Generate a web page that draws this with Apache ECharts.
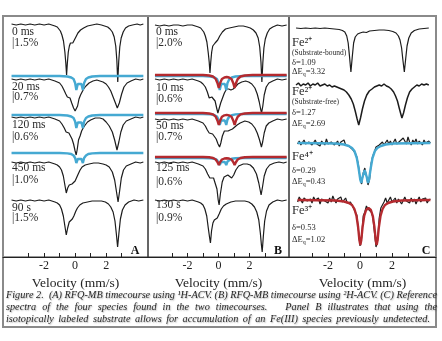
<!DOCTYPE html>
<html>
<head>
<meta charset="utf-8">
<script src="https://cdn.jsdelivr.net/npm/echarts@6/dist/echarts.min.js"></script>
<style>
html, body { margin: 0; padding: 0; background: #fff; }
#chart { width: 442px; height: 341px; }
</style>
</head>
<body>
<div id="chart"></div>
<script>
var FONT = '"Liberation Serif", "Times New Roman", serif';
var BLACK = '#1c1c1c';
var BLUE = '#45a9d2';
var RED = '#b42a2f';

// ---- panel A: 1H-ACV timecourse, [velocity mm/s, absorption depth] ----
var specA1 = [[-4.1,0],[-3.8,1],[-3.5,0],[-3.2,1],[-2.9,0],[-2.6,1],[-2.3,0],[-2.0,1],[-1.7,0],[-1.5,1],[-1.3,2],[-1.15,3],[-1.05,5],[-0.95,7],[-0.85,11],[-0.75,17],[-0.66,28],[-0.6,39],[-0.55,51],[-0.5,39],[-0.44,28],[-0.37,22],[-0.3,19],[-0.22,18],[-0.15,19],[-0.06,17],[0.05,13],[0.18,9],[0.35,6],[0.55,4],[0.8,2],[1.1,1],[1.4,0],[1.7,1],[1.9,2],[2.1,3],[2.25,5],[2.4,8],[2.52,13],[2.62,22],[2.69,36],[2.75,58],[2.81,38],[2.88,23],[2.97,14],[3.1,8],[3.25,4],[3.45,2],[3.7,1],[4.0,0],[4.2,1],[4.4,0]];
var specA2 = [[-4.1,0],[-3.8,1],[-3.5,0],[-3.2,1],[-2.9,0],[-2.6,1],[-2.3,0],[-2.0,1],[-1.7,0],[-1.5,1],[-1.3,2],[-1.15,3],[-1.0,4],[-0.85,7],[-0.72,11],[-0.6,15],[-0.5,18],[-0.42,17],[-0.33,19],[-0.22,24],[-0.1,29],[0.0,32],[0.08,34],[0.16,27],[0.25,20],[0.35,16],[0.45,14],[0.55,10],[0.7,7],[0.9,4],[1.15,2],[1.4,1],[1.6,2],[1.8,3],[2.0,5],[2.15,8],[2.3,12],[2.45,18],[2.6,24],[2.72,29],[2.85,24],[3.0,15],[3.15,8],[3.35,4],[3.6,2],[3.9,0],[4.2,1],[4.4,0]];
var specA3 = [[-4.1,0],[-3.8,1],[-3.5,0],[-3.2,1],[-2.9,0],[-2.6,1],[-2.3,0],[-2.0,1],[-1.7,0],[-1.5,1],[-1.3,2],[-1.15,3],[-1.0,4],[-0.85,7],[-0.7,11],[-0.58,15],[-0.48,16],[-0.4,16],[-0.3,19],[-0.2,22],[-0.1,27],[0.0,34],[0.07,38],[0.14,32],[0.22,23],[0.32,19],[0.42,14],[0.52,11],[0.65,8],[0.8,5],[1.0,3],[1.3,1],[1.6,1],[1.8,2],[2.0,5],[2.2,9],[2.4,15],[2.55,23],[2.7,33],[2.82,25],[2.95,15],[3.1,8],[3.3,4],[3.6,2],[3.9,0],[4.2,1],[4.4,0]];
var specA4 = [[-4.1,0],[-3.8,1],[-3.5,0],[-3.2,1],[-2.9,0],[-2.6,1],[-2.3,0],[-2.0,1],[-1.7,0],[-1.5,1],[-1.3,2],[-1.15,3],[-1.0,5],[-0.88,8],[-0.76,14],[-0.66,23],[-0.57,31],[-0.48,26],[-0.38,23],[-0.3,23],[-0.2,22],[-0.1,21],[0.0,19],[0.1,17],[0.2,12],[0.32,8],[0.45,5],[0.65,3],[0.9,2],[1.2,1],[1.5,1],[1.8,2],[2.0,3],[2.2,5],[2.4,10],[2.55,18],[2.67,30],[2.77,40],[2.87,29],[2.98,16],[3.12,8],[3.3,4],[3.6,2],[3.9,0],[4.2,1],[4.4,0]];
var specA5 = [[-4.1,0],[-3.8,1],[-3.5,0],[-3.2,1],[-2.9,0],[-2.6,1],[-2.3,0],[-2.0,1],[-1.7,0],[-1.5,1],[-1.3,2],[-1.15,3],[-1.0,5],[-0.88,9],[-0.76,16],[-0.66,26],[-0.57,35],[-0.48,28],[-0.38,22],[-0.28,20],[-0.18,19],[-0.08,16],[0.05,11],[0.15,8],[0.3,5],[0.5,3],[0.8,2],[1.1,1],[1.4,1],[1.7,1],[1.95,2],[2.15,4],[2.3,7],[2.45,12],[2.57,21],[2.66,34],[2.74,47],[2.82,34],[2.92,19],[3.05,10],[3.22,5],[3.45,2],[3.8,0],[4.1,1],[4.4,0]];
// Fe(IV) fits in A
var fitA2 = [[-4.1,0],[-1.0,0],[-0.5,0.5],[-0.25,1.5],[-0.1,3],[0.0,7],[0.08,14],[0.17,8],[0.29,6],[0.41,8],[0.5,14],[0.58,7],[0.7,3],[0.85,1.5],[1.1,0.5],[1.6,0],[4.4,0]];
var fitA3 = [[-4.1,0],[-1.0,0],[-0.5,0.5],[-0.25,1.5],[-0.1,3],[0.0,6.5],[0.08,13],[0.17,7.5],[0.29,5.5],[0.41,7.5],[0.5,13],[0.58,6.5],[0.7,3],[0.85,1.5],[1.1,0.5],[1.6,0],[4.4,0]];
var fitA4 = [[-4.1,0],[-1.0,0],[-0.5,0.4],[-0.25,1],[-0.1,2.5],[0.0,5],[0.08,10],[0.17,6],[0.29,4.5],[0.41,6],[0.5,10],[0.58,5],[0.7,2.5],[0.85,1],[1.1,0.4],[1.6,0],[4.4,0]];

// ---- panel B: 2H-ACV timecourse ----
var specB1 = [[-4.1,0],[-3.8,1],[-3.5,0],[-3.2,1],[-2.9,0],[-2.6,0],[-2.3,1],[-2.0,0],[-1.7,0],[-1.5,1],[-1.3,2],[-1.15,3],[-1.05,5],[-0.95,7],[-0.85,11],[-0.75,17],[-0.66,28],[-0.6,37],[-0.55,48],[-0.5,37],[-0.44,27],[-0.37,21],[-0.3,19],[-0.22,18],[-0.14,18],[-0.05,15],[0.08,11],[0.25,7],[0.45,4],[0.7,3],[1.0,2],[1.3,1],[1.6,1],[1.85,2],[2.05,3],[2.25,5],[2.42,8],[2.56,13],[2.66,22],[2.74,37],[2.8,57],[2.86,38],[2.93,23],[3.02,14],[3.15,8],[3.3,4],[3.5,2],[3.8,0],[4.1,1],[4.4,0]];
var specB2 = [[-4.1,0],[-3.8,1],[-3.5,0],[-3.2,1],[-2.9,0],[-2.6,1],[-2.3,0],[-2.0,1],[-1.7,0],[-1.5,1],[-1.3,2],[-1.15,3],[-1.0,5],[-0.85,8],[-0.72,13],[-0.6,19],[-0.52,21],[-0.43,18],[-0.33,17],[-0.22,22],[-0.12,29],[-0.04,34],[0.04,32],[0.14,24],[0.26,19],[0.38,14],[0.52,10],[0.66,10],[0.8,11],[0.95,10],[1.08,8],[1.25,5],[1.5,3],[1.75,2],[1.95,3],[2.15,5],[2.35,9],[2.5,15],[2.63,23],[2.72,30],[2.78,34],[2.86,27],[2.95,16],[3.08,8],[3.25,4],[3.5,2],[3.8,0],[4.1,1],[4.4,0]];
var specB3 = [[-4.1,0],[-3.8,1],[-3.5,0],[-3.2,1],[-2.9,0],[-2.6,1],[-2.3,0],[-2.0,1],[-1.7,0],[-1.5,1],[-1.3,2],[-1.15,3],[-1.0,4],[-0.85,7],[-0.72,11],[-0.6,14],[-0.48,16],[-0.38,15],[-0.27,16],[-0.15,20],[-0.03,25],[0.07,28],[0.15,24],[0.25,17],[0.38,12],[0.5,11],[0.62,12],[0.75,11],[0.9,10],[1.05,8],[1.2,6],[1.4,4],[1.7,2],[1.95,3],[2.15,5],[2.35,9],[2.5,14],[2.63,20],[2.72,25],[2.77,28],[2.85,23],[2.95,14],[3.08,7],[3.25,4],[3.5,2],[3.8,0],[4.1,1],[4.4,0]];
var specB4 = [[-4.1,0],[-3.8,1],[-3.5,0],[-3.2,1],[-2.9,0],[-2.6,1],[-2.3,0],[-2.0,1],[-1.7,0],[-1.5,1],[-1.3,2],[-1.15,3],[-1.0,4],[-0.85,7],[-0.7,12],[-0.56,16],[-0.45,15],[-0.32,16],[-0.2,18],[-0.1,27],[-0.02,38],[0.04,43],[0.12,32],[0.24,20],[0.36,15],[0.48,13],[0.6,13],[0.72,15],[0.85,16],[0.98,13],[1.12,8],[1.3,4],[1.6,2],[1.85,2],[2.05,3],[2.25,6],[2.45,12],[2.6,21],[2.7,29],[2.75,33],[2.84,25],[2.95,14],[3.1,7],[3.3,3],[3.6,1],[3.9,0],[4.2,1],[4.4,0]];
var specB5 = [[-4.1,0],[-3.8,1],[-3.5,0],[-3.2,1],[-2.9,0],[-2.6,1],[-2.3,0],[-2.0,1],[-1.7,0],[-1.5,1],[-1.3,2],[-1.15,3],[-1.0,5],[-0.88,9],[-0.76,16],[-0.66,28],[-0.58,37],[-0.52,43],[-0.45,31],[-0.36,23],[-0.27,20],[-0.18,20],[-0.08,18],[0.04,14],[0.18,9],[0.32,6],[0.5,4],[0.8,2],[1.1,1],[1.4,1],[1.7,1],[1.95,2],[2.15,4],[2.32,7],[2.47,12],[2.6,20],[2.7,33],[2.77,45],[2.82,52],[2.89,37],[2.98,21],[3.1,11],[3.26,5],[3.5,2],[3.8,0],[4.1,1],[4.4,0]];
// Fe(IV) (blue) and Fe(III) (red) fits in B
var blueB2 = [[-4.1,0],[-1.0,0],[-0.5,0.5],[-0.25,1.5],[-0.1,3],[0.0,7],[0.08,14],[0.17,8],[0.29,6],[0.41,8],[0.5,14],[0.58,7],[0.7,3],[0.85,1.5],[1.1,0.5],[1.6,0],[4.4,0]];
var blueB3 = [[-4.1,0],[-1.0,0],[-0.5,0.4],[-0.25,1.2],[-0.1,2.5],[0.0,5.5],[0.08,11],[0.17,6.5],[0.29,4.5],[0.41,6.5],[0.5,11],[0.58,5.5],[0.7,2.5],[0.85,1.2],[1.1,0.4],[1.6,0],[4.4,0]];
var blueB4 = [[-4.1,0],[-1.0,0],[-0.5,0.3],[-0.25,0.8],[-0.1,1.8],[0.0,3.5],[0.08,7],[0.17,4],[0.29,3],[0.41,4],[0.5,7],[0.58,3.5],[0.7,1.8],[0.85,0.8],[1.1,0.3],[1.6,0],[4.4,0]];
var redB2 = [[-4.1,0],[-1.0,0],[-0.6,0.5],[-0.35,1.5],[-0.18,4],[-0.07,8],[0.02,13],[0.11,8],[0.22,4],[0.38,2.5],[0.53,2],[0.68,2.5],[0.84,4],[0.95,8],[1.04,13],[1.13,8],[1.24,4],[1.42,1.5],[1.7,0.5],[2.2,0],[4.4,0]];
var redB3 = [[-4.1,0],[-1.0,0],[-0.6,0.5],[-0.35,1.4],[-0.18,3.7],[-0.07,7.5],[0.02,12],[0.11,7.5],[0.22,3.7],[0.38,2.3],[0.53,1.8],[0.68,2.3],[0.84,3.7],[0.95,7.5],[1.04,12],[1.13,7.5],[1.24,3.7],[1.42,1.4],[1.7,0.5],[2.2,0],[4.4,0]];
var redB4 = [[-4.1,0],[-1.0,0],[-0.6,0.3],[-0.35,1],[-0.18,2.5],[-0.07,5],[0.02,8],[0.11,5],[0.22,2.5],[0.38,1.5],[0.53,1.2],[0.68,1.5],[0.84,2.5],[0.95,5],[1.04,8],[1.13,5],[1.24,2.5],[1.42,1],[1.7,0.3],[2.2,0],[4.4,0]];

// ---- panel C: reference spectra ----
var specC1 = [[-4.0,0],[-3.7,0.5],[-3.4,0],[-3.1,0.5],[-2.8,0],[-2.5,0.5],[-2.2,0],[-1.9,0.5],[-1.6,1],[-1.3,1.5],[-1.1,2.5],[-0.95,4],[-0.83,8],[-0.74,15],[-0.66,28],[-0.57,44],[-0.48,28],[-0.4,15],[-0.3,9],[-0.15,6],[0.0,5],[0.2,4],[0.4,4.5],[0.6,3],[0.9,2.5],[1.2,2],[1.5,2],[1.8,2.5],[2.05,3.5],[2.25,5],[2.4,8],[2.5,12],[2.6,20],[2.68,32],[2.77,44],[2.86,30],[2.94,18],[3.05,10],[3.2,5],[3.4,2.5],[3.7,1],[4.0,0.5],[4.3,0]];
var specC2 = [[-4.0,0],[-3.85,-2],[-3.7,1],[-3.55,-1],[-3.4,0],[-3.25,-2],[-3.1,1],[-2.95,-1],[-2.8,0],[-2.65,-2],[-2.5,1],[-2.35,0],[-2.2,-1],[-2.05,1],[-1.9,0],[-1.75,2],[-1.6,1],[-1.45,2],[-1.3,3],[-1.15,4],[-1.0,5],[-0.85,7],[-0.7,10],[-0.55,14],[-0.42,19],[-0.3,26],[-0.18,34],[-0.08,40],[0.03,33],[0.15,24],[0.28,16],[0.42,10],[0.58,6],[0.75,4],[0.9,2],[1.05,1],[1.2,0],[1.35,1],[1.5,-1],[1.65,1],[1.8,2],[1.95,4],[2.1,7],[2.22,11],[2.34,16],[2.45,23],[2.55,29],[2.62,33],[2.72,28],[2.84,20],[2.96,13],[3.1,7],[3.25,4],[3.4,2],[3.55,0],[3.7,1],[3.85,-1],[4.0,0],[4.15,-1],[4.3,0]];
var velC = [-3.9,-3.8,-3.7,-3.6,-3.5,-3.4,-3.3,-3.2,-3.1,-3.0,-2.9,-2.8,-2.7,-2.6,-2.5,-2.4,-2.3,-2.2,-2.1,-2.0,-1.9,-1.8,-1.7,-1.6,-1.5,-1.4,-1.3,-1.2,-1.1,-1.0,-0.9,-0.8,-0.7,-0.6,-0.5,-0.4,-0.3,-0.2,-0.1,0.0,0.1,0.2,0.3,0.4,0.5,0.6,0.7,0.8,0.9,1.0,1.1,1.2,1.3,1.4,1.5,1.6,1.7,1.8,1.9,2.0,2.1,2.2,2.3,2.4,2.5,2.6,2.7,2.8,2.9,3.0,3.1,3.2,3.3,3.4,3.5,3.6,3.7,3.8,3.9,4.0,4.1,4.2,4.3,4.4];
var specC3 = [1,-2,2,0,-3,1,3,-1,-2,2,0,-3,1,-1,3,-2,0,2,-4,1,2,-1,-3,2,0,-2,3,-1,1,-3,2,0,3,4,6,5,10,14,22,35,41,30,25,33,42,36,20,13,9,4,6,2,3,-1,2,0,-3,1,-2,2,0,-4,1,3,-2,0,-5,-2,1,-6,-1,2,-3,0,-4,1,-2,-1,2,-3,0,1,-2,0];
var specC4 = [2,-3,0,3,-2,-4,1,2,-1,3,-3,0,2,-2,4,-1,-3,1,0,3,-2,2,-4,0,3,-1,1,-3,2,0,-2,3,1,2,5,3,12,15,30,46,38,16,12,6,9,7,12,17,32,47,40,18,8,7,2,-2,3,0,-3,2,1,-2,3,-1,0,4,2,-3,1,0,3,-2,2,-1,4,0,-3,2,-1,1,-2,3,0,-1];
var blueC3 = [[-3.9,0],[-1.5,0.5],[-1.0,1.5],[-0.7,3],[-0.5,5],[-0.35,8],[-0.2,15],[-0.08,26],[0.02,37],[0.08,40],[0.16,34],[0.29,27],[0.42,34],[0.5,40],[0.56,37],[0.66,26],[0.78,15],[0.93,8],[1.08,5],[1.3,3],[1.6,1.5],[2.1,0.5],[4.4,0]];
var redC4 = [[-3.9,0],[-1.5,0.5],[-1.0,1.5],[-0.7,3],[-0.5,5],[-0.35,9],[-0.22,16],[-0.12,27],[-0.04,40],[0.02,45],[0.08,40],[0.16,27],[0.26,16],[0.38,10],[0.53,8],[0.68,10],[0.8,16],[0.9,27],[0.98,40],[1.04,45],[1.1,40],[1.18,27],[1.28,16],[1.41,9],[1.56,5],[1.76,3],[2.06,1.5],[2.6,0.5],[4.4,0]];

// text
var namesA = ['0 ms', '20 ms', '120 ms', '450 ms', '90 s'];
var pctA = ['1.5%', '0.7%', '0.6%', '1.0%', '1.5%'];
var namesB = ['0 ms', '10 ms', '50 ms', '125 ms', '130 s'];
var pctB = ['2.0%', '0.6%', '0.7%', '0.6%', '0.9%'];
var species = ['Fe²⁺', 'Fe²⁺', 'Fe⁴⁺', 'Fe³⁺'];
var speciesNote = ['(Substrate-bound)', '(Substrate-free)', '', ''];
var delta = ['1.09', '1.27', '0.29', '0.53'];
var dEq = ['3.32', '2.69', '0.43', '1.02'];
var caption = [
  'Figure 2.  (A) RFQ-MB timecourse using ¹H-ACV. (B) RFQ-MB timecourse using ²H-ACV. (C) Reference',
  'spectra of the four species found in the two timecourses.   Panel B illustrates that using the',
  'isotopically labeled substrate allows for accumulation of an Fe(III) species previously undetected.'
];

// layout (vertical offsets of each trace, in panel units from the panel top)
var offA = [8, 63, 101, 146, 184], offAfit = [60, 99, 137];
var offB = [9, 63, 103, 146, 184], offBblue = [60, 98, 142], offBred = [59, 97, 141];
var offC = [12, 69, 127, 184];
var labelYA = [32, 87, 125, 168, 208], pctYA = [43, 97, 137, 180, 218];
var labelYB = [32, 88, 126, 168, 205], pctYB = [43, 99, 137, 182, 218];

function place(pts, base) {
  return pts.map(function (p) { return [p[0], base + p[1]]; });
}
function placeGrid(vel, vals, base) {
  return vel.map(function (v, i) { return [v, base + vals[i]]; });
}

var series = [];
function addLine(g, data, color, width, z) {
  series.push({
    type: 'line', xAxisIndex: g, yAxisIndex: g, data: data,
    showSymbol: false, symbol: 'none', silent: true, z: z,
    lineStyle: { color: color, width: width }
  });
}

[specA1, specA2, specA3, specA4, specA5].forEach(function (s, i) { addLine(0, place(s, offA[i]), BLACK, 1.2, 2); });
[fitA2, fitA3, fitA4].forEach(function (s, i) { addLine(0, place(s, offAfit[i]), BLUE, 2.4, 3); });
[specB1, specB2, specB3, specB4, specB5].forEach(function (s, i) { addLine(1, place(s, offB[i]), BLACK, 1.2, 2); });
[blueB2, blueB3, blueB4].forEach(function (s, i) { addLine(1, place(s, offBblue[i]), BLUE, 2.4, 3); });
[redB2, redB3, redB4].forEach(function (s, i) { addLine(1, place(s, offBred[i]), RED, 2.4, 4); });
addLine(2, place(specC1, offC[0]), BLACK, 1.2, 2);
addLine(2, place(specC2, offC[1]), BLACK, 1.5, 2);
addLine(2, placeGrid(velC, specC3, offC[2]), BLACK, 1.2, 2);
addLine(2, placeGrid(velC, specC4, offC[3]), BLACK, 1.2, 2);
addLine(2, place(blueC3, offC[2]), BLUE, 2.4, 3);
addLine(2, place(redC4, offC[3]), RED, 2.4, 3);

function grid(left, width) {
  return { left: left, top: 16, width: width, height: 241, show: true, borderColor: '#333', borderWidth: 1 };
}
function xAxis(g, min, max) {
  return {
    type: 'value', gridIndex: g, min: min, max: max, position: 'bottom',
    axisLine: { onZero: false, lineStyle: { color: '#222', width: 1 } },
    axisTick: { inside: true, length: 4, customValues: [-3, -2, -1, 0, 1, 2, 3], lineStyle: { color: '#222' } },
    axisLabel: { customValues: [-2, 0, 2], fontFamily: FONT, fontSize: 12, color: '#222', margin: 3 },
    splitLine: { show: false },
    name: 'Velocity (mm/s)', nameLocation: 'middle', nameGap: 18,
    nameTextStyle: { fontFamily: FONT, fontSize: 13.5, color: '#222' }
  };
}
function yAxis(g) {
  return { type: 'value', gridIndex: g, inverse: true, min: 0, max: 241, show: false };
}

var graphic = [{
  type: 'rect', shape: { x: 3, y: 16, width: 433, height: 311 }, silent: true,
  style: { fill: 'none', stroke: '#8a8a8a', lineWidth: 2 }
}];
function txt(x, y, text, size, extra) {
  var st = { text: text, fontFamily: FONT, fontSize: size, fill: '#2a2a2a', textVerticalAlign: 'middle' };
  for (var k in extra) st[k] = extra[k];
  graphic.push({ type: 'text', x: x, y: y, silent: true, z: 10, style: st });
}
namesA.forEach(function (n, i) { txt(12, labelYA[i], n, 11.5); txt(12, pctYA[i], '|' + pctA[i], 11.5); });
namesB.forEach(function (n, i) { txt(156, labelYB[i], n, 11.5); txt(156, pctYB[i], '|' + pctB[i], 11.5); });

var specY = [[43, 53, 63, 72], [92, 102, 113, 124], [157, 0, 171, 182], [211, 0, 228, 240]];
species.forEach(function (s, i) {
  var y = specY[i];
  txt(292, y[0], s, 12.5);
  if (speciesNote[i]) txt(292, y[1], speciesNote[i], 7.5);
  txt(292, y[2], 'δ=' + delta[i], 8.5);
  txt(292, y[3], '{a|ΔE}{q|q}{a|=' + dEq[i] + '}', 8.5, {
    rich: {
      a: { fontFamily: FONT, fontSize: 8.5, lineHeight: 11, fill: '#2a2a2a' },
      q: { fontFamily: FONT, fontSize: 6, lineHeight: 6, verticalAlign: 'bottom', fill: '#2a2a2a' }
    }
  });
});
[['A', 135], ['B', 278], ['C', 426]].forEach(function (p) {
  txt(p[1], 251, p[0], 12, { fontWeight: 'bold', textAlign: 'center', fill: '#111' });
});

// caption: fixed height, squeezed horizontally and justified
var ctx = document.createElement('canvas').getContext('2d');
var CAP_SIZE = 10.5;
var capFont = 'italic ' + CAP_SIZE + 'px "Liberation Serif"';
ctx.font = capFont;
var capWidth = [431, 431, 424];
var capY = [295, 307.5, 319];
var sx = capWidth[0] / ctx.measureText(caption[0]).width;
caption.forEach(function (line, li) {
  var words = line.split(' ');
  var widths = words.map(function (w) { return ctx.measureText(w).width * sx; });
  var total = widths.reduce(function (a, b) { return a + b; }, 0);
  var gap = (capWidth[li] - total) / (words.length - 1);
  var x = 6;
  words.forEach(function (w, i) {
    if (w) {
      graphic.push({
        type: 'text', x: x, y: capY[li], scaleX: sx, silent: true,
        style: {
          text: w, font: capFont, fill: '#262626', textVerticalAlign: 'middle',
          textShadowColor: 'rgba(0,0,0,0.3)', textShadowBlur: 1.5, textShadowOffsetX: 0.8, textShadowOffsetY: 0.8
        }
      });
    }
    x += widths[i] + gap;
  });
});

var chart = echarts.init(document.getElementById('chart'));
chart.setOption({
  animation: false,
  backgroundColor: '#fff',
  grid: [grid(3, 145), grid(148, 141), grid(289, 147)],
  xAxis: [xAxis(0, -4.65, 4.7), xAxis(1, -4.55, 4.55), xAxis(2, -4.44, 4.75)],
  yAxis: [yAxis(0), yAxis(1), yAxis(2)],
  series: series,
  graphic: graphic
});
</script>
</body>
</html>
